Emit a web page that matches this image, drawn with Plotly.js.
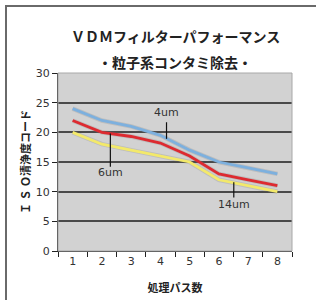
<!DOCTYPE html>
<html><head><meta charset="utf-8">
<script src="https://cdn.plot.ly/plotly-3.0.1.min.js"></script>
<style>
html,body{margin:0;padding:0;background:#fff;}
#wrap{position:relative;width:316px;height:300px;overflow:hidden;}
#frame{position:absolute;left:5px;top:5px;width:330px;height:320px;border-left:2px solid #6a6a6a;border-top:2px solid #6a6a6a;box-sizing:border-box;pointer-events:none;}
#chart{position:absolute;left:0;top:0;width:316px;height:300px;}
</style></head>
<body><div id="wrap"><div id="chart"></div><div id="frame"></div></div>
<script>
const passes = ['1','2','3','4','5','6','7','8'];
const um4 = [24, 22, 21, 19.5, 17, 15, 14, 13];
const um6 = [22, 20, 19.3, 18.2, 16, 13, 12, 11];
const um14 = [20, 18, 17, 16, 15, 12, 11, 10];
const yTicks = [0, 5, 10, 15, 20, 25, 30];
const titleLines = ['ＶＤＭフィルターパフォーマンス', '・粒子系コンタミ除去・'];

const mk = (y, c) => ({x: passes, y: y, type: 'scatter', mode: 'lines',
  line: {color: c, width: 2.8}, hoverinfo: 'skip', showlegend: false});
const shadow = (y) => ({x: passes, y: y, type: 'scatter', mode: 'lines',
  line: {color: 'rgba(120,120,120,0.22)', width: 4.5}, hoverinfo: 'skip', showlegend: false});

const data = [shadow(um14), shadow(um6), shadow(um4),
  mk(um14, '#f3e96a'), mk(um6, '#dd2a30'), mk(um4, '#7db0de')];

const tfont = {family: 'DejaVu Sans, sans-serif', size: 11, color: '#333'};
const hfont = {family: 'Noto Sans CJK JP', size: 14, color: '#222'};
const layout = {
  width: 316, height: 300,
  margin: {l: 58, r: 24, t: 73, b: 49},
  paper_bgcolor: '#ffffff', plot_bgcolor: '#d2d2d2',
  xaxis: {type: 'category', range: [-0.5, 7.5], tickson: 'boundaries', ticks: 'outside', ticklen: 5,
    tickcolor: '#222', showline: true, linecolor: '#222', linewidth: 1, showgrid: false,
    tickfont: tfont, mirror: false,
    title: {text: '<b>処理パス数</b>', font: {family: 'Noto Sans CJK JP', size: 11, color: '#222'}, standoff: 17}},
  yaxis: {range: [0, 30], tickvals: yTicks, ticks: 'outside', ticklen: 5, tickcolor: '#222',
    showline: true, linecolor: '#222', linewidth: 1, showgrid: true, gridcolor: '#4a4a4a', gridwidth: 2,
    zeroline: false, tickfont: tfont,
    title: {text: '<b>Ｉ Ｓ Ｏ清浄度コード</b>', font: {family: 'Noto Sans CJK JP', size: 11, color: '#222'}, standoff: 2}},
  shapes: [
    {type: 'rect', xref: 'paper', yref: 'paper', x0: 0, x1: 1, y0: 0, y1: 1, line: {color: '#a8a8a8', width: 1}},
    {type: 'line', xref: 'x', yref: 'y', x0: 1.29, x1: 1.29, y0: 19.8, y1: 14.2, line: {color: '#111', width: 1.2}},
    {type: 'line', xref: 'x', yref: 'y', x0: 3.21, x1: 3.21, y0: 21.7, y1: 18.9, line: {color: '#111', width: 1.2}},
    {type: 'line', xref: 'x', yref: 'y', x0: 5.51, x1: 5.51, y0: 11.6, y1: 9.0, line: {color: '#111', width: 1.2}}
  ],
  annotations: [
    {x: 0.5, y: 1.275, xref: 'paper', yref: 'paper', text: '<b>' + titleLines[0] + '</b>', showarrow: false, font: hfont},
    {x: 0.5, y: 1.128, xref: 'paper', yref: 'paper', text: '<b>' + titleLines[1] + '</b>', showarrow: false, font: hfont},
    {x: 1.29, y: 13.2, xref: 'x', yref: 'y', text: '6um', showarrow: false, font: tfont},
    {x: 3.21, y: 23.3, xref: 'x', yref: 'y', text: '4um', showarrow: false, font: tfont},
    {x: 5.51, y: 7.9, xref: 'x', yref: 'y', text: '14um', showarrow: false, font: tfont}
  ]
};
Plotly.newPlot('chart', data, layout, {staticPlot: true, displayModeBar: false});
</script></body></html>
